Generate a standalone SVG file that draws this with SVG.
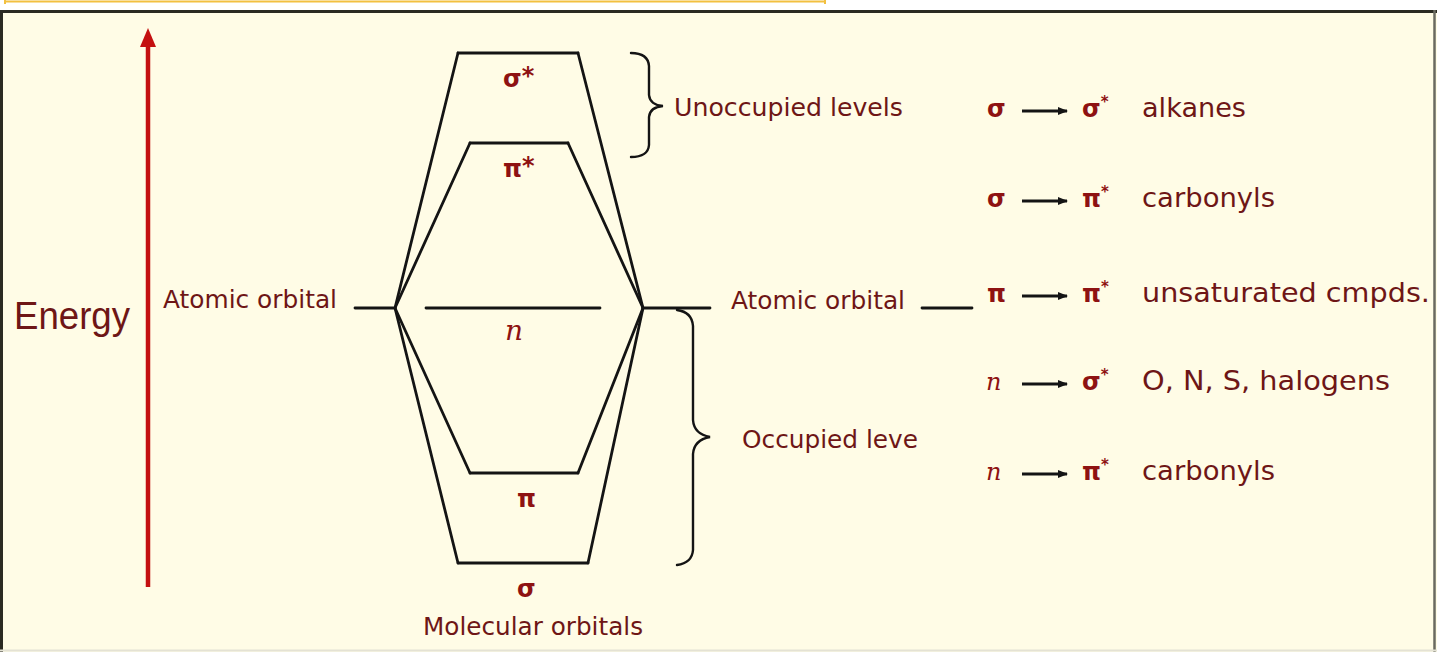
<svg xmlns="http://www.w3.org/2000/svg" width="1437" height="652" viewBox="0 0 1437 652">
<defs>
<style>
.bg{fill:#fffce6}
.ln{stroke:#141414;stroke-width:2.8;fill:none;stroke-linecap:round;stroke-linejoin:round}
.br{stroke:#141414;stroke-width:2.4;fill:none;stroke-linecap:round}
.lbl{font-family:"DejaVu Sans","Liberation Sans",sans-serif;font-size:25px;fill:#6e1616}
.gk{font-family:"DejaVu Sans","Liberation Sans",sans-serif;font-size:24px;font-weight:bold;fill:#8e1212}
.nn{font-family:"DejaVu Serif","Liberation Serif",serif;font-size:28px;font-style:italic;fill:#8e1212}
.sup{font-size:15px}
.ar{stroke:#141414;stroke-width:3}
</style>
<marker id="ah" markerUnits="userSpaceOnUse" markerWidth="10" markerHeight="10" viewBox="0 0 10 10" refX="9" refY="5" orient="auto">
<path d="M0,1 L10,5 L0,9 Z" fill="#141414"/>
</marker>
</defs>
<rect x="0" y="0" width="1437" height="652" fill="#ffffff"/>
<line x1="5" y1="1.5" x2="825" y2="1.5" stroke="#f2c040" stroke-width="2"/>
<line x1="5" y1="0" x2="5" y2="4" stroke="#f2c040" stroke-width="2"/>
<line x1="825" y1="0" x2="825" y2="4" stroke="#f2c040" stroke-width="2"/>
<rect class="bg" x="0" y="10" width="1437" height="642"/>
<line x1="0" y1="11.5" x2="1437" y2="11.5" stroke="#2a2a22" stroke-width="3"/>
<line x1="1.5" y1="10" x2="1.5" y2="652" stroke="#2a2a22" stroke-width="3"/>
<line x1="1434.5" y1="10" x2="1434.5" y2="652" stroke="#6a6a60" stroke-width="2.5"/>
<line x1="0" y1="650.5" x2="1437" y2="650.5" stroke="#e4e2d4" stroke-width="2"/>

<g id="energy-axis">
<line x1="148" y1="587" x2="148" y2="44" stroke="#c41010" stroke-width="4.5"/>
<path d="M140,47 L156,47 L148,28 Z" fill="#c41010"/>
<text x="14" y="329" textLength="116" lengthAdjust="spacingAndGlyphs" style="font-family:'Liberation Sans',Arial,sans-serif;font-size:38px;fill:#6e1616">Energy</text>
</g>

<g id="ao-left">
<text class="lbl" x="163" y="308" textLength="174" lengthAdjust="spacingAndGlyphs">Atomic orbital</text>
<line class="ln" x1="355" y1="308" x2="395" y2="308"/>
</g>

<g id="ao-right">
<line class="ln" x1="643" y1="308" x2="710" y2="308"/>
<text class="lbl" x="731" y="309" textLength="174" lengthAdjust="spacingAndGlyphs">Atomic orbital</text>
<line class="ln" x1="922" y1="308" x2="972" y2="308"/>
</g>

<g id="sigma-star">
<line class="ln" x1="458" y1="53" x2="578" y2="53"/>
<text class="gk" x="503" y="87">σ<tspan dy="-3">*</tspan></text>
</g>
<g id="pi-star">
<line class="ln" x1="470" y1="143" x2="568" y2="143"/>
<text class="gk" x="503" y="177">π<tspan dy="-3">*</tspan></text>
</g>
<g id="n-level">
<line class="ln" x1="426" y1="308" x2="600" y2="308"/>
<text class="nn" x="505" y="340">n</text>
</g>
<g id="pi">
<line class="ln" x1="470" y1="473" x2="578" y2="473"/>
<text class="gk" x="517" y="507">π</text>
</g>
<g id="sigma">
<line class="ln" x1="458" y1="563" x2="588" y2="563"/>
<text class="gk" x="517" y="597">σ</text>
<text class="lbl" x="423" y="635" textLength="220" lengthAdjust="spacingAndGlyphs">Molecular orbitals</text>
</g>

<g id="connectors">
<line class="ln" x1="395" y1="308" x2="458" y2="53"/>
<line class="ln" x1="395" y1="308" x2="470" y2="143"/>
<line class="ln" x1="395" y1="308" x2="470" y2="473"/>
<line class="ln" x1="395" y1="308" x2="458" y2="563"/>
<line class="ln" x1="578" y1="53" x2="643" y2="308"/>
<line class="ln" x1="568" y1="143" x2="643" y2="308"/>
<line class="ln" x1="578" y1="473" x2="643" y2="308"/>
<line class="ln" x1="588" y1="563" x2="643" y2="308"/>
</g>

<g id="unoccupied">
<path class="br" d="M631,53 Q648,53 649,66 L649,95 Q650,105 663,106 Q650,107 649,117 L649,145 Q648,157 631,157"/>
<text class="lbl" x="674" y="116" textLength="229" lengthAdjust="spacingAndGlyphs">Unoccupied levels</text>
</g>

<g id="occupied">
<path class="br" d="M677,310 Q692,312 693,326 L693,420 Q694,434 710,437 Q694,440 693,454 L693,550 Q692,563 677,565"/>
<text class="lbl" x="742" y="448" textLength="176" lengthAdjust="spacingAndGlyphs">Occupied leve</text>
</g>

<g id="t1">
<text class="gk" x="987" y="117">σ</text>
<line class="ar" x1="1022" y1="111" x2="1067" y2="111" marker-end="url(#ah)"/>
<text class="gk" x="1082" y="117">σ<tspan class="sup" dy="-10">*</tspan></text>
<text class="lbl" x="1142" y="117" textLength="104" lengthAdjust="spacingAndGlyphs" style="font-size:27px">alkanes</text>
</g>
<g id="t2">
<text class="gk" x="987" y="207">σ</text>
<line class="ar" x1="1022" y1="201" x2="1067" y2="201" marker-end="url(#ah)"/>
<text class="gk" x="1082" y="207">π<tspan class="sup" dy="-10">*</tspan></text>
<text class="lbl" x="1142" y="207" textLength="133" lengthAdjust="spacingAndGlyphs" style="font-size:27px">carbonyls</text>
</g>
<g id="t3">
<text class="gk" x="987" y="302">π</text>
<line class="ar" x1="1022" y1="296" x2="1067" y2="296" marker-end="url(#ah)"/>
<text class="gk" x="1082" y="302">π<tspan class="sup" dy="-10">*</tspan></text>
<text class="lbl" x="1142" y="302" textLength="288" lengthAdjust="spacingAndGlyphs" style="font-size:27px">unsaturated cmpds.</text>
</g>
<g id="t4">
<text class="nn" x="986" y="390" style="font-size:24px">n</text>
<line class="ar" x1="1022" y1="384" x2="1067" y2="384" marker-end="url(#ah)"/>
<text class="gk" x="1082" y="390">σ<tspan class="sup" dy="-10">*</tspan></text>
<text class="lbl" x="1142" y="390" textLength="248" lengthAdjust="spacingAndGlyphs" style="font-size:27px">O, N, S, halogens</text>
</g>
<g id="t5">
<text class="nn" x="986" y="480" style="font-size:24px">n</text>
<line class="ar" x1="1022" y1="474" x2="1067" y2="474" marker-end="url(#ah)"/>
<text class="gk" x="1082" y="480">π<tspan class="sup" dy="-10">*</tspan></text>
<text class="lbl" x="1142" y="480" textLength="133" lengthAdjust="spacingAndGlyphs" style="font-size:27px">carbonyls</text>
</g>
</svg>
